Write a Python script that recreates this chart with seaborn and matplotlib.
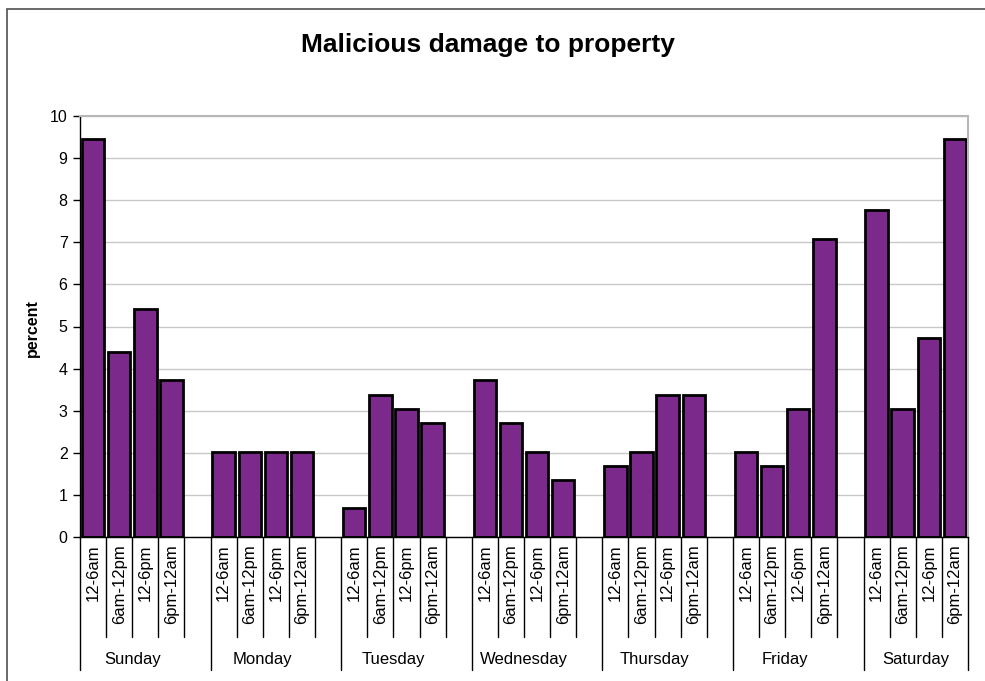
import numpy as np
import pandas as pd
import matplotlib.pyplot as plt
import matplotlib.transforms as mtransforms
from matplotlib.patches import Rectangle
import seaborn as sns

# data (percent)
days = ['Sunday', 'Monday', 'Tuesday', 'Wednesday', 'Thursday', 'Friday', 'Saturday']
periods = ['12-6am', '6am-12pm', '12-6pm', '6pm-12am']
sunday = [9.46, 4.39, 5.41, 3.72]
monday = [2.03, 2.03, 2.03, 2.03]
tuesday = [0.68, 3.38, 3.04, 2.70]
wednesday = [3.72, 2.70, 2.03, 1.35]
thursday = [1.69, 2.03, 3.38, 3.38]
friday = [2.03, 1.69, 3.04, 7.09]
saturday = [7.77, 3.04, 4.73, 9.46]
values = [sunday, monday, tuesday, wednesday, thursday, friday, saturday]

# each day takes 4 slots plus one empty slot as a spacer (not after Saturday)
rows = []
for d, vals in enumerate(values):
    for p, v in enumerate(vals):
        rows.append({'slot': d * 5 + p, 'day': days[d], 'period': periods[p], 'percent': v})
df = pd.DataFrame(rows)
n_slots = len(days) * 5 - 1

sns.set_theme(style='white')
plt.rcParams['font.family'] = ['Liberation Sans', 'DejaVu Sans']
plt.rcParams['text.color'] = 'black'

purple = '#7B2A8C'
fig = plt.figure(figsize=(9.85, 6.81), dpi=100)
ax = fig.add_axes([80 / 985, 1 - 537 / 681, 888 / 985, 421 / 681])

sns.barplot(data=df, x='slot', y='percent', order=list(range(n_slots)), color=purple,
            saturation=1, edgecolor='black', linewidth=2, width=0.86, ax=ax)

ax.set_xlim(-0.5, n_slots - 0.5)
ax.set_ylim(0, 10)
ax.set_yticks(range(0, 11))
ax.set_xticks([])
ax.set_xlabel('')
ax.set_ylabel('')
ax.yaxis.grid(True, color='#C8C8C8', lw=1)
ax.set_axisbelow(True)
ax.tick_params(axis='y', direction='out', left=True, length=5, width=1, color='black',
               labelsize=11.5, pad=4, labelcolor='black')
for s in ['top', 'right']:
    ax.spines[s].set_color('#B8B8B8')
    ax.spines[s].set_linewidth(1.5)
for s in ['left', 'bottom']:
    ax.spines[s].set_color('black')
    ax.spines[s].set_linewidth(1)

# two-level category axis below the plot
trans = mtransforms.blended_transform_factory(ax.transData, ax.transAxes)
for _, r in df.iterrows():
    ax.text(r['slot'], -0.018, r['period'], transform=trans, rotation=90,
            ha='center', va='top', fontsize=12, color='black')
day_edges = [d * 5 for d in range(len(days))] + [n_slots]
for k in range(n_slots + 1):
    low = -0.316 if k in day_edges else -0.2375
    ax.plot([k - 0.5, k - 0.5], [0, low], transform=trans, color='black', lw=1, clip_on=False)
for d, day in enumerate(days):
    ax.text(d * 5 + 1.5, -0.292, day, transform=trans, ha='center', va='center',
            fontsize=12, color='black')

fig.text(488 / 985, 1 - 45 / 681, 'Malicious damage to property', ha='center', va='center',
         fontsize=19, fontweight='bold', color='black')
fig.text(32 / 985, 1 - 328 / 681, 'percent', rotation=90, ha='center', va='center',
         fontsize=11.5, fontweight='bold', color='black')

# chart-area border (only top and left visible in the crop)
fig.add_artist(Rectangle((7 / 985, -0.1), 1.2, 1 - 9 / 681 + 0.1, transform=fig.transFigure,
                         fill=False, edgecolor='#505050', lw=1.2))

fig.savefig('out.png', dpi=100)
